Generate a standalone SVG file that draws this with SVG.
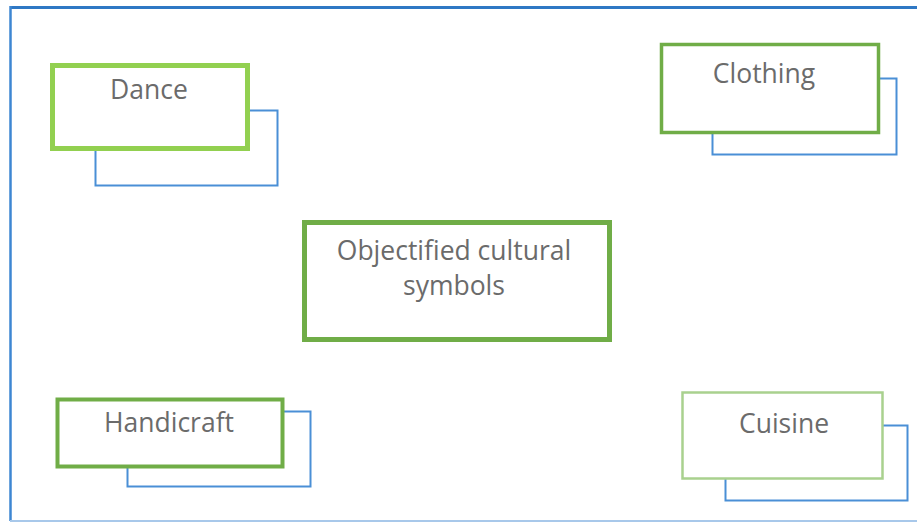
<svg xmlns="http://www.w3.org/2000/svg" width="917" height="524" viewBox="0 0 917 524">
<style>
.back{fill:#fff;stroke:#4a8fd6;stroke-width:2}
.front{fill:#fff}
.t{font-family:"Open Sans","Noto Sans",sans-serif;font-size:26.5px;fill:#6b6b6b;text-anchor:middle}
</style>
<rect width="917" height="524" fill="#fff"/>
<g id="frame">
<line x1="10.5" y1="7.5" x2="917" y2="7.5" stroke="#2f78c4" stroke-width="3"/>
<line x1="10.5" y1="6" x2="10.5" y2="521" stroke="#3d86d2" stroke-width="2.5"/>
<line x1="10" y1="521" x2="917" y2="521" stroke="#a8c8ea" stroke-width="2"/>
</g>
<g id="connectors"></g>
<g id="dance">
<rect class="back" x="95.5" y="110.5" width="182" height="75"/>
<rect class="front" x="52.5" y="65.5" width="195" height="83" stroke="#92d050" stroke-width="5"/>
<text class="t" x="149" y="99">Dance</text>
</g>
<g id="clothing">
<rect class="back" x="712.5" y="78.5" width="184" height="76"/>
<rect class="front" x="661.5" y="44.5" width="217" height="88" stroke="#70ad47" stroke-width="3.5"/>
<text class="t" x="764" y="83">Clothing</text>
</g>
<g id="center">
<rect class="front" x="304.5" y="222.5" width="305" height="117" stroke="#70ad47" stroke-width="5"/>
<text class="t" x="454" y="260">Objectified cultural</text>
<text class="t" x="454" y="295">symbols</text>
</g>
<g id="handicraft">
<rect class="back" x="127.5" y="411.5" width="183" height="75"/>
<rect class="front" x="57.5" y="399.5" width="225" height="67" stroke="#70ad47" stroke-width="4"/>
<text class="t" x="169" y="432">Handicraft</text>
</g>
<g id="cuisine">
<rect class="back" x="725.5" y="425.5" width="182" height="75"/>
<rect class="front" x="682.5" y="392.5" width="200" height="86" stroke="#a9d18e" stroke-width="2.5"/>
<text class="t" x="784" y="433">Cuisine</text>
</g>
</svg>
